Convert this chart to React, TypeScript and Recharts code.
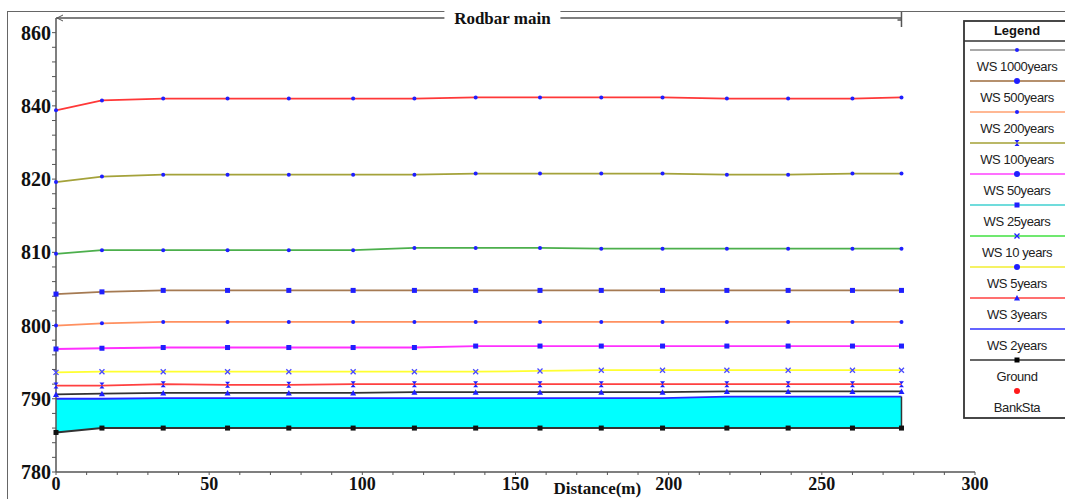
import { Area, ComposedChart, Legend, Line, ReferenceLine, XAxis, YAxis } from 'recharts';

// river stations along the reach (m)
const STATIONS = [0, 15, 35, 56, 76, 97, 117, 137, 158, 178, 198, 219, 239, 260, 276];

// water surface profiles
const WS_1000 = [838.8, 841.5, 842.0, 842.0, 842.0, 842.0, 842.0, 842.3, 842.3, 842.3, 842.3, 842.0, 842.0, 842.0, 842.3];
const WS_500 = [819.6, 820.7, 821.2, 821.2, 821.2, 821.2, 821.2, 821.5, 821.5, 821.5, 821.5, 821.2, 821.2, 821.5, 821.5];
const WS_200 = [809.8, 810.3, 810.3, 810.3, 810.3, 810.3, 810.6, 810.6, 810.6, 810.5, 810.5, 810.5, 810.5, 810.5, 810.5];
const WS_100 = [804.3, 804.6, 804.8, 804.8, 804.8, 804.8, 804.8, 804.8, 804.8, 804.8, 804.8, 804.8, 804.8, 804.8, 804.8];
const WS_50 = [800.0, 800.3, 800.5, 800.5, 800.5, 800.5, 800.5, 800.5, 800.5, 800.5, 800.5, 800.5, 800.5, 800.5, 800.5];
const WS_25 = [796.8, 796.9, 797.0, 797.0, 797.0, 797.0, 797.0, 797.2, 797.2, 797.2, 797.2, 797.2, 797.2, 797.2, 797.2];
const WS_10 = [793.6, 793.7, 793.7, 793.7, 793.7, 793.7, 793.7, 793.7, 793.8, 793.9, 793.9, 793.9, 793.9, 793.9, 793.9];
const WS_5 = [791.8, 791.8, 792.0, 791.9, 791.9, 792.0, 792.0, 792.0, 792.0, 792.0, 792.0, 792.0, 792.0, 792.0, 792.0];
const WS_3 = [790.6, 790.7, 790.8, 790.8, 790.8, 790.8, 790.9, 790.9, 790.9, 790.9, 790.9, 791.0, 791.0, 791.0, 791.0];
const WS_2 = [790.0, 790.0, 790.1, 790.1, 790.1, 790.1, 790.1, 790.1, 790.1, 790.1, 790.1, 790.3, 790.3, 790.3, 790.3];
const GROUND = [785.4, 786.0, 786.0, 786.0, 786.0, 786.0, 786.0, 786.0, 786.0, 786.0, 786.0, 786.0, 786.0, 786.0, 786.0];

const X_LABELS = [0, 50, 100, 150, 200, 250, 300];
const Y_LABELS = [780, 790, 800, 810, 820, 840, 860];
const Y_TOP = 864;
const TITLE = 'Rodbar main';
const X_TITLE = 'Distance(m)';

const LEGEND_NAMES = ['WS 1000years', 'WS 500years', 'WS 200years', 'WS 100years', 'WS 50years', 'WS 25years', 'WS 10 years', 'WS 5years', 'WS 3years', 'WS 2years', 'Ground', 'BankSta'];

type Shape = 'dot' | 'bigdot' | 'square' | 'x' | 'tri' | 'hour' | 'none';

const SERIES: { key: string; values: number[]; color: string; marker: Shape; markColor: string }[] = [
  { key: 'ws1000', values: WS_1000, color: '#ff3838', marker: 'dot', markColor: '#1f1fff' },
  { key: 'ws500', values: WS_500, color: '#a4a23a', marker: 'dot', markColor: '#1f1fff' },
  { key: 'ws200', values: WS_200, color: '#4caf4c', marker: 'dot', markColor: '#1f1fff' },
  { key: 'ws100', values: WS_100, color: '#a57a52', marker: 'square', markColor: '#1f1fff' },
  { key: 'ws50', values: WS_50, color: '#ff9060', marker: 'dot', markColor: '#1f1fff' },
  { key: 'ws25', values: WS_25, color: '#ff30ff', marker: 'square', markColor: '#1f1fff' },
  { key: 'ws10', values: WS_10, color: '#ffff30', marker: 'x', markColor: '#4a4aff' },
  { key: 'ws5', values: WS_5, color: '#ff4040', marker: 'hour', markColor: '#1f1fff' },
  { key: 'ws3', values: WS_3, color: '#333333', marker: 'tri', markColor: '#1f1fff' },
  { key: 'ws2', values: WS_2, color: '#2828ff', marker: 'none', markColor: '#1f1fff' },
  { key: 'ground', values: GROUND, color: '#333333', marker: 'square', markColor: '#111111' },
];

const LEGEND_STYLE: { color: string; marker: Shape; markColor: string }[] = [
  { color: '#8c8c8c', marker: 'dot', markColor: '#1f1fff' },
  { color: '#9c6b3c', marker: 'bigdot', markColor: '#1f1fff' },
  { color: '#ffa070', marker: 'dot', markColor: '#1f1fff' },
  { color: '#a3a035', marker: 'hour', markColor: '#1f1fff' },
  { color: '#ff40ff', marker: 'bigdot', markColor: '#1f1fff' },
  { color: '#40d0d0', marker: 'square', markColor: '#1f1fff' },
  { color: '#40e040', marker: 'x', markColor: '#1f1fff' },
  { color: '#f2ee30', marker: 'bigdot', markColor: '#1f1fff' },
  { color: '#ff4040', marker: 'tri', markColor: '#1f1fff' },
  { color: '#3030ff', marker: 'none', markColor: '#1f1fff' },
  { color: '#333333', marker: 'square', markColor: '#000000' },
  { color: 'none', marker: 'bigdot', markColor: '#ff1a1a' },
];

const rows = STATIONS.map((x, i) => {
  const r: any = { x, band: [GROUND[i], WS_2[i]] };
  SERIES.forEach((s) => { r[s.key] = s.values[i]; });
  return r;
});

const X_TICKS: number[] = [];
for (let v = 0; v <= 300; v += 10) X_TICKS.push(v);

// five minor steps between consecutive labels
const Y_TICKS: number[] = [];
for (let i = 0; i < Y_LABELS.length - 1; i++) {
  const step = (Y_LABELS[i + 1] - Y_LABELS[i]) / 5;
  for (let k = 0; k < 5; k++) Y_TICKS.push(Y_LABELS[i] + k * step);
}
Y_TICKS.push(Y_LABELS[Y_LABELS.length - 1]);

// the elevation axis puts every label at an equal distance, so map piecewise
function labelPos(v: number) {
  let i = 0;
  while (i < Y_LABELS.length - 2 && v > Y_LABELS[i + 1]) i++;
  return i + (v - Y_LABELS[i]) / (Y_LABELS[i + 1] - Y_LABELS[i]);
}
function posLabel(p: number) {
  const i = Math.max(0, Math.min(Y_LABELS.length - 2, Math.floor(p)));
  return Y_LABELS[i] + (p - i) * (Y_LABELS[i + 1] - Y_LABELS[i]);
}

function stepScale(): any {
  let dom = [780, 860];
  let rng = [0, 1];
  const s: any = (v: number) => {
    const a = labelPos(Number(dom[0]));
    const b = labelPos(Number(dom[dom.length - 1]));
    return rng[0] + ((labelPos(Number(v)) - a) / (b - a)) * (rng[rng.length - 1] - rng[0]);
  };
  s.domain = (d?: any[]) => {
    if (d === undefined) return dom.slice();
    dom = d.map(Number);
    return s;
  };
  s.range = (r?: any[]) => {
    if (r === undefined) return rng.slice();
    rng = r.map(Number);
    return s;
  };
  s.invert = (px: number) => {
    const a = labelPos(dom[0]);
    const b = labelPos(dom[dom.length - 1]);
    return posLabel(a + ((px - rng[0]) / (rng[rng.length - 1] - rng[0])) * (b - a));
  };
  s.copy = () => stepScale().domain(dom).range(rng);
  s.ticks = () => Y_TICKS;
  s.nice = () => s;
  s.clamp = () => s;
  return s;
}

function Marker({ cx, cy, shape, color }: { cx: number; cy: number; shape: Shape; color: string }) {
  if (cx == null || cy == null || shape === 'none') return <g />;
  switch (shape) {
    case 'dot':
      return <circle cx={cx} cy={cy} r={2} fill={color} />;
    case 'bigdot':
      return <circle cx={cx} cy={cy} r={3} fill={color} />;
    case 'square':
      return <rect x={cx - 2.5} y={cy - 2.5} width={5} height={5} fill={color} />;
    case 'x':
      return <path d={`M${cx - 2.5},${cy - 2.5}L${cx + 2.5},${cy + 2.5}M${cx - 2.5},${cy + 2.5}L${cx + 2.5},${cy - 2.5}`} stroke={color} strokeWidth={1.3} />;
    case 'tri':
      return <polygon points={`${cx},${cy - 3} ${cx - 3},${cy + 2.5} ${cx + 3},${cy + 2.5}`} fill={color} />;
    case 'hour':
      return <polygon points={`${cx - 2.5},${cy - 3} ${cx + 2.5},${cy - 3} ${cx - 2.5},${cy + 3} ${cx + 2.5},${cy + 3}`} fill={color} />;
  }
  return <g />;
}

const XTick = (p: any) => {
  if (!X_LABELS.includes(p.payload.value)) return <g />;
  return (
    <text x={p.x} y={p.y} dy="0.71em" textAnchor="middle" fontFamily="Liberation Serif" fontWeight="bold" fontSize={18} fill="#111">
      {p.payload.value}
    </text>
  );
};

const YTick = (p: any) => {
  if (!Y_LABELS.includes(p.payload.value)) return <g />;
  return (
    <text x={p.x} y={p.y} dy="0.35em" textAnchor="end" fontFamily="Liberation Serif" fontWeight="bold" fontSize={20} fill="#111">
      {p.payload.value}
    </text>
  );
};

const TitleLabel = (p: any) => {
  const { x, y, width } = p.viewBox;
  const mid = x + width * 0.528;
  return (
    <g>
      <rect x={mid - 58} y={y - 9} width={116} height={18} fill="#fff" />
      <text x={mid} y={y} dy="0.35em" textAnchor="middle" fontFamily="Liberation Serif" fontWeight="bold" fontSize={17} fill="#111">
        {TITLE}
      </text>
      <path d={`M${x + 7},${y - 3}L${x + 1},${y}L${x + 7},${y + 3}`} stroke="#555" fill="none" />
      <path d={`M${x + width},${y - 6}L${x + width},${y + 9}M${x + width - 4},${y + 2}L${x + width},${y + 2}`} stroke="#555" strokeWidth={1.5} />
    </g>
  );
};

const XTitle = (p: any) => {
  const { x, y, width } = p.viewBox;
  return (
    <text x={x + width * 0.589} y={y + 22} textAnchor="middle" fontFamily="Liberation Serif" fontWeight="bold" fontSize={17} fill="#111">
      {X_TITLE}
    </text>
  );
};

function LegendBox() {
  return (
    <svg width={110} height={400}>
      <rect x={1} y={1} width={110} height={397} fill="#fff" stroke="#333" strokeWidth={1.8} />
      <text x={54} y={10} dy="0.35em" textAnchor="middle" fontFamily="Liberation Sans" fontWeight="bold" fontSize={13} fill="#111">
        Legend
      </text>
      <line x1={1} x2={110} y1={21} y2={21} stroke="#333" strokeWidth={1.3} />
      {LEGEND_NAMES.map((name, i) => {
        const st = LEGEND_STYLE[i];
        const ly = 30 + 31 * i;
        return (
          <g key={name}>
            {st.color !== 'none' && <line x1={7} x2={110} y1={ly} y2={ly} stroke={st.color} strokeWidth={1.6} />}
            <Marker cx={54} cy={ly} shape={st.marker} color={st.markColor} />
            <text x={54} y={ly + 16} dy="0.35em" textAnchor="middle" fontFamily="Liberation Sans" fontSize={13} letterSpacing={-0.4} fill="#222">
              {name}
            </text>
          </g>
        );
      })}
    </svg>
  );
}

export default function App() {
  const last = STATIONS.length - 1;
  return (
    <div style={{ position: 'absolute', left: 0, top: 0, width: 1065, height: 499, overflow: 'hidden', background: '#fff' }}>
      <div style={{ position: 'absolute', left: 7, top: 11, width: 1100, height: 520, borderLeft: '1.5px solid #666', borderTop: '1.5px solid #666' }} />
      <div style={{ position: 'absolute', left: 0, top: 0 }}>
        <ComposedChart width={1065} height={499} data={rows} margin={{ top: 18, right: 90, bottom: 0, left: 0 }}>
          <XAxis
            dataKey="x"
            type="number"
            domain={[0, 300]}
            ticks={X_TICKS}
            interval={0}
            tickSize={3}
            tickMargin={2}
            height={27}
            axisLine={{ stroke: '#555', strokeWidth: 1.5 }}
            tickLine={{ stroke: '#555' }}
            tick={<XTick />}
            label={<XTitle />}
          />
          <YAxis
            type="number"
            scale={stepScale()}
            domain={[780, Y_TOP]}
            ticks={Y_TICKS}
            interval={0}
            width={56}
            tickSize={4}
            tickMargin={1}
            axisLine={{ stroke: '#555', strokeWidth: 1.5 }}
            tickLine={{ stroke: '#555' }}
            tick={<YTick />}
          />
          <Area dataKey="band" stroke="none" fill="#00ffff" fillOpacity={1} isAnimationActive={false} />
          {SERIES.map((s) => (
            <Line
              key={s.key}
              dataKey={s.key}
              type="linear"
              stroke={s.color}
              strokeWidth={s.key === 'ground' ? 2 : 1.8}
              dot={(p: any) => <Marker key={`${s.key}-${p.index}`} cx={p.cx} cy={p.cy} shape={s.marker} color={s.markColor} />}
              activeDot={false}
              isAnimationActive={false}
            />
          ))}
          <ReferenceLine
            segment={[{ x: STATIONS[last], y: GROUND[last] }, { x: STATIONS[last], y: WS_2[last] }]}
            stroke="#333"
            strokeWidth={1.5}
            ifOverflow="visible"
          />
          <ReferenceLine
            segment={[{ x: STATIONS[0], y: Y_TOP }, { x: STATIONS[last], y: Y_TOP }]}
            stroke="#555"
            strokeWidth={1.5}
            ifOverflow="visible"
            label={<TitleLabel />}
          />
          <Legend
            layout="horizontal"
            verticalAlign="middle"
            align="center"
            content={() => <LegendBox />}
            wrapperStyle={{ left: 963, top: 20, width: 110, height: 400 }}
          />
        </ComposedChart>
      </div>
    </div>
  );
}
